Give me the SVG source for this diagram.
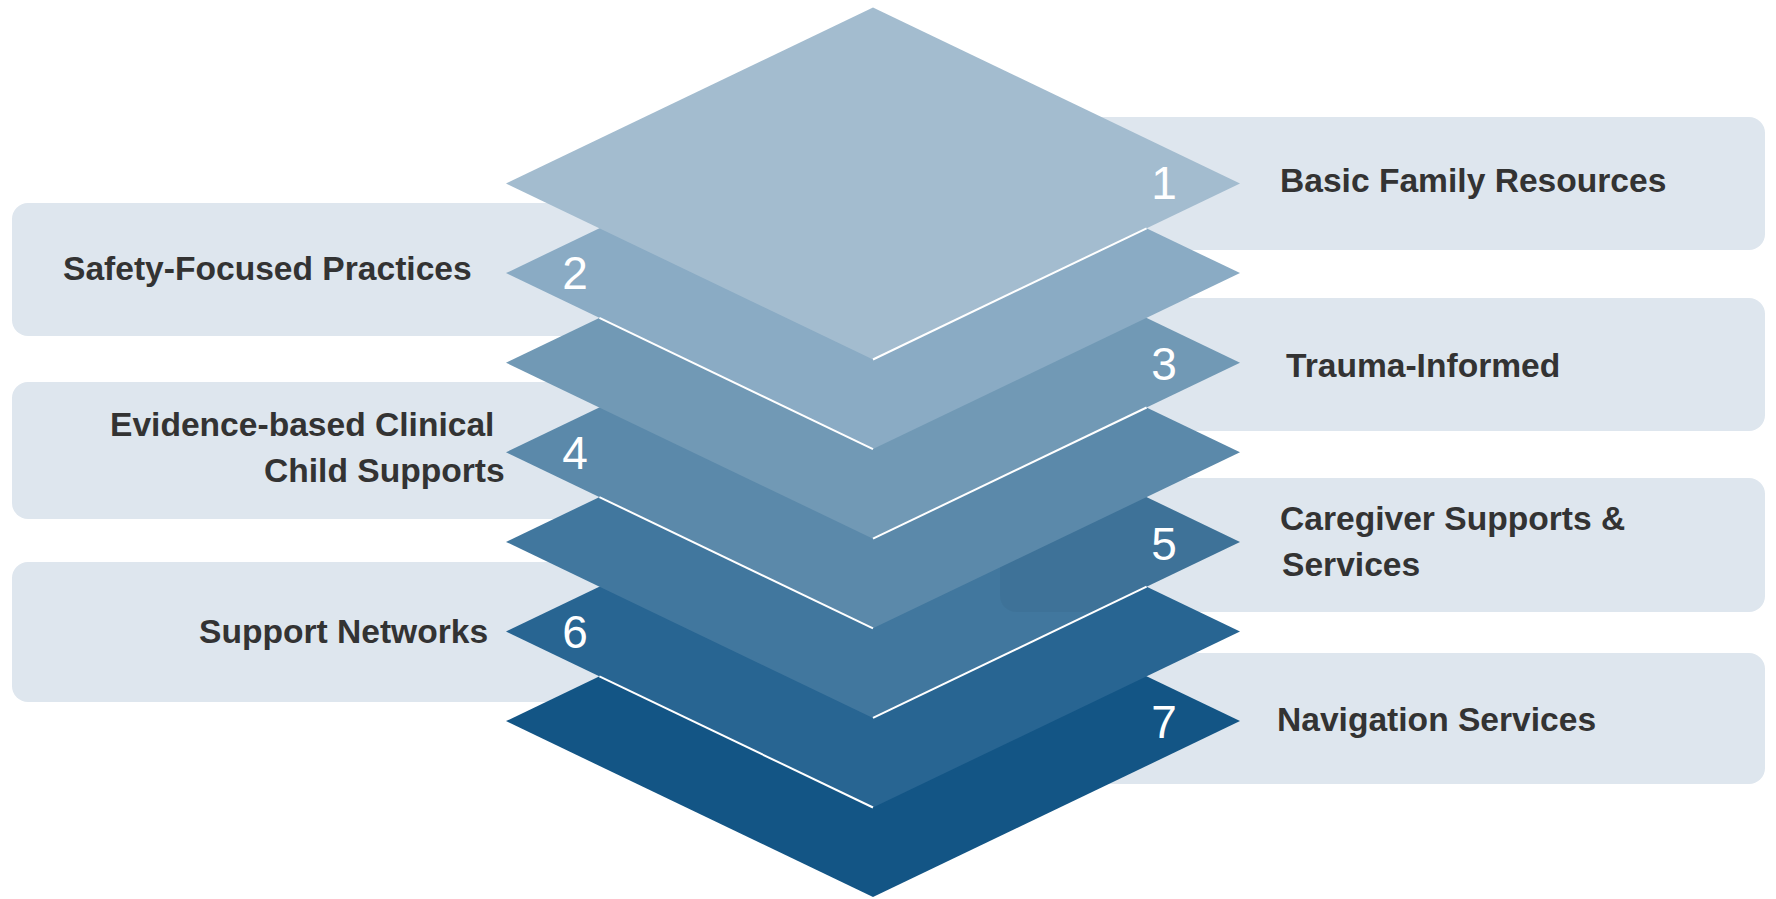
<svg xmlns="http://www.w3.org/2000/svg" width="1776" height="899" viewBox="0 0 1776 899">
<style>
.box{fill:#DEE6EE}
.lbl{font-family:"Liberation Sans",Arial,sans-serif;font-weight:bold;font-size:33.6px;fill:#333333}
.num{font-family:"Liberation Sans",Arial,sans-serif;font-size:46px;fill:#ffffff;text-anchor:middle}
.hl{stroke:#ffffff;stroke-width:2;fill:none}
</style>
<defs>
<clipPath id="clip5"><polygon points="873,365.9 1240,541.9 873,717.9 506,541.9"/></clipPath>
</defs>
<rect width="1776" height="899" fill="#ffffff"/>
<g id="boxes">
<g id="node-1"><rect class="box" x="1000" y="117" width="765" height="133" rx="16"/><text class="lbl" x="1280" y="192">Basic Family Resources</text></g>
<g id="node-2"><rect class="box" x="12" y="203" width="760" height="133" rx="16"/><text class="lbl" x="63" y="280">Safety-Focused Practices</text></g>
<g id="node-3"><rect class="box" x="1000" y="298" width="765" height="133" rx="16"/><text class="lbl" x="1286" y="377">Trauma-Informed</text></g>
<g id="node-4"><rect class="box" x="12" y="382" width="760" height="137" rx="16"/><text class="lbl" x="110" y="436">Evidence-based Clinical</text><text class="lbl" x="264" y="482">Child Supports</text></g>
<g id="node-5"><rect class="box" x="1000" y="478" width="765" height="134" rx="16"/><text class="lbl" x="1280" y="530">Caregiver Supports &amp;</text><text class="lbl" x="1282" y="576">Services</text></g>
<g id="node-6"><rect class="box" x="12" y="562" width="760" height="140" rx="16"/><text class="lbl" x="199" y="643">Support Networks</text></g>
<g id="node-7"><rect class="box" x="1000" y="653" width="765" height="131" rx="16"/><text class="lbl" x="1277" y="731">Navigation Services</text></g>
</g>
<g id="layers">
<g id="layer-7"><polygon points="873,545.1 1240,721.1 873,897.1 506,721.1" fill="#135585"/><text class="num" x="1164" y="738">7</text></g>
<g id="layer-6"><polygon points="873,455.5 1240,631.5 873,807.5 506,631.5" fill="#286592"/><line class="hl" x1="873" y1="807.5" x2="599.4" y2="676.3"/><text class="num" x="575" y="648">6</text></g>
<g id="layer-5"><polygon points="873,365.9 1240,541.9 873,717.9 506,541.9" fill="#41779E"/><rect clip-path="url(#clip5)" x="1000" y="478" width="765" height="134" rx="16" fill="#000000" fill-opacity="0.035"/><line class="hl" x1="873" y1="717.9" x2="1146.6" y2="586.7"/><text class="num" x="1164" y="560">5</text></g>
<g id="layer-4"><polygon points="873,276.3 1240,452.3 873,628.3 506,452.3" fill="#5B89AA"/><line class="hl" x1="873" y1="628.3" x2="599.4" y2="497.1"/><text class="num" x="575" y="469">4</text></g>
<g id="layer-3"><polygon points="873,186.7 1240,362.7 873,538.7 506,362.7" fill="#7199B5"/><line class="hl" x1="873" y1="538.7" x2="1146.6" y2="407.5"/><text class="num" x="1164" y="380">3</text></g>
<g id="layer-2"><polygon points="873,97.1 1240,273.1 873,449.1 506,273.1" fill="#8AABC4"/><line class="hl" x1="873" y1="449.1" x2="599.4" y2="317.9"/><text class="num" x="575" y="289">2</text></g>
<g id="layer-1"><polygon points="873,7.5 1240,183.5 873,359.5 506,183.5" fill="#A3BCCF"/><line class="hl" x1="873" y1="359.5" x2="1146.6" y2="228.3"/><text class="num" x="1164" y="199">1</text></g>
</g>
</svg>
